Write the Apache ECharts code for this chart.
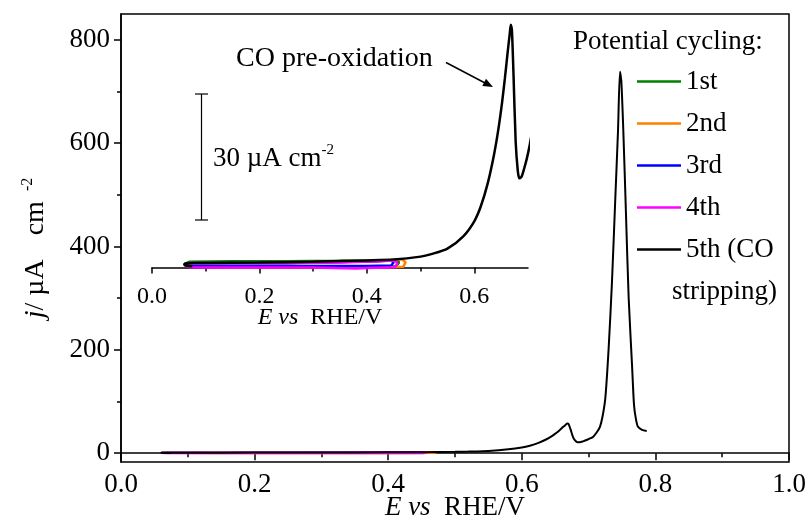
<!DOCTYPE html>
<html><head><meta charset="utf-8">
<script src="https://cdn.jsdelivr.net/npm/echarts@6.0.0/dist/echarts.min.js"></script>
<style>html,body{margin:0;padding:0;background:#fff}#c{width:810px;height:525px}</style>
</head><body><div id="c"></div>
<script>
// ---- data ----
const seriesNames = ['1st', '2nd', '3rd', '4th', '5th (CO stripping)'];
const seriesColors = ['#008000', '#ff8000', '#0000ff', '#ff00ff', '#000000'];
const xTicks = [0, 0.2, 0.4, 0.6, 0.8, 1.0];
const yTicks = [0, 200, 400, 600, 800];
const yMinorTicks = [100, 300, 500, 700];
const insetXTicks = [0, 0.2, 0.4, 0.6];

// cycle 1..4 : closed loops (E in V vs RHE, j in µA cm^-2)
const c1E = [0.06, 0.07, 0.15, 0.25, 0.35, 0.43, 0.455, 0.46, 0.455, 0.40, 0.30, 0.20, 0.10, 0.07, 0.06];
const c1J = [0.8, 1.4, 1.5, 1.5, 1.6, 1.7, 1.8, 1.2, 0.4, 0.3, 0.3, 0.3, 0.3, 0.3, 0.8];
const c2E = [0.06, 0.07, 0.15, 0.25, 0.35, 0.43, 0.465, 0.472, 0.468, 0.42, 0.35, 0.25, 0.15, 0.07, 0.06];
const c2J = [0.7, 1.1, 1.1, 1.1, 1.3, 1.6, 2.0, 1.3, 0.2, 0.1, 0.1, 0.1, 0.1, 0.2, 0.7];
const c3E = [0.06, 0.07, 0.15, 0.25, 0.35, 0.42, 0.445, 0.45, 0.445, 0.40, 0.30, 0.20, 0.10, 0.07, 0.06];
const c3J = [0.8, 1.1, 1.1, 1.1, 1.3, 1.5, 1.7, 1.2, 0.5, 0.4, 0.4, 0.4, 0.4, 0.4, 0.8];
const c4E = [0.06, 0.07, 0.15, 0.25, 0.35, 0.42, 0.452, 0.457, 0.452, 0.40, 0.38, 0.30, 0.20, 0.10, 0.07, 0.06];
const c4J = [0.6, 1.0, 1.0, 1.0, 1.2, 1.5, 1.7, 1.0, 0.1, -0.1, -0.2, 0.0, 0.0, 0.0, 0.1, 0.6];
// cycle 5 : CO stripping
const c5E = [0.075, 0.063, 0.06, 0.063, 0.08, 0.1, 0.2, 0.3, 0.4, 0.45, 0.5, 0.52, 0.55, 0.58, 0.6, 0.612, 0.625, 0.637, 0.645, 0.652, 0.657, 0.662, 0.666, 0.668, 0.670, 0.673, 0.677, 0.681, 0.684, 0.688, 0.693, 0.698, 0.703, 0.707, 0.712, 0.717, 0.721, 0.725, 0.730, 0.735, 0.740, 0.744, 0.747, 0.749, 0.752, 0.756, 0.760, 0.765, 0.768, 0.771, 0.774, 0.780, 0.787];
const c5J = [0.3, 0.5, 0.8, 1.0, 1.1, 1.1, 1.2, 1.4, 1.7, 1.9, 2.6, 3.2, 4.5, 7.5, 11.0, 14.5, 20.0, 27.0, 33.0, 39.5, 45.0, 51.0, 55.5, 57.7, 56.5, 46.0, 30.0, 23.0, 21.2, 21.6, 23.6, 26.0, 29.0, 32.0, 40.0, 51.0, 72.0, 106, 203, 332, 494, 623, 738, 720, 623, 461, 300, 171, 93, 65, 51, 45, 43];

const cyclesE = [c1E, c2E, c3E, c4E, c5E];
const cyclesJ = [c1J, c2J, c3J, c4J, c5J];

// ---- chart ----
const FONT = 'Liberation Serif';
const FS = 27;
const FSI = 24;
const chart = echarts.init(document.getElementById('c'), null, {renderer: 'canvas'});
const zip = (a, b) => a.map((v, i) => [v, b[i]]);

const series = [];
for (let k = 0; k < 5; k++) {
  const data = zip(cyclesE[k], cyclesJ[k]);
  series.push({
    name: seriesNames[k], type: 'line', xAxisIndex: 0, yAxisIndex: 0,
    data: data, symbol: 'none', smooth: k === 4 ? 0.25 : false,
    lineStyle: {color: seriesColors[k], width: 2}, itemStyle: {color: seriesColors[k]},
    z: 2 + k, animation: false
  });
  series.push({
    name: seriesNames[k], type: 'line', xAxisIndex: 1, yAxisIndex: 2,
    data: data, symbol: 'none', smooth: k === 4 ? 0.25 : false, clip: true,
    lineStyle: {color: seriesColors[k], width: 2.5}, itemStyle: {color: seriesColors[k]},
    z: 2 + k, animation: false
  });
}

const axisLine = {show: true, lineStyle: {color: '#000', width: 1.5}};
const labelStyle = {color: '#000', fontFamily: FONT, fontSize: FS};

const option = {
  animation: false,
  backgroundColor: '#fff',
  grid: [
    {left: 121, right: 21, top: 14, bottom: 63, show: true, borderColor: '#000', borderWidth: 1.5,
     backgroundColor: 'transparent', outerBoundsMode: 'none', containLabel: false},
    {left: 152, width: 376, top: 15, height: 261, show: false, outerBoundsMode: 'none', containLabel: false}
  ],
  xAxis: [
    {type: 'value', gridIndex: 0, min: 0, max: 1.0, interval: 0.2,
     axisLine: axisLine, splitLine: {show: false},
     axisTick: {show: true, inside: false, length: 7, lineStyle: {color: '#000', width: 1.5}},
     minorTick: {show: true, splitNumber: 2, length: 4, lineStyle: {color: '#000', width: 1.5}},
     axisLabel: Object.assign({margin: 9, formatter: v => v.toFixed(1)}, labelStyle),
     name: '{i|E vs}  RHE/V', nameLocation: 'middle', nameGap: 32, nameMoveOverlap: false,
     nameTextStyle: {color: '#000', fontFamily: FONT, fontSize: FS,
       rich: {i: {fontFamily: FONT, fontSize: FS, fontStyle: 'italic', color: '#000'}}}
    },
    {type: 'value', gridIndex: 1, min: 0, max: 0.7, interval: 0.2,
     axisLine: axisLine, splitLine: {show: false},
     axisTick: {show: true, inside: false, length: 6, lineStyle: {color: '#000', width: 1.5},
       customValues: insetXTicks},
     minorTick: {show: true, splitNumber: 2, length: 4, lineStyle: {color: '#000', width: 1.5}},
     axisLabel: {margin: 9, customValues: insetXTicks, formatter: v => v.toFixed(1),
       color: '#000', fontFamily: FONT, fontSize: FSI},
     name: '{i|E vs}  RHE/V', nameLocation: 'middle', nameGap: 30, nameMoveOverlap: false,
     nameTextStyle: {color: '#000', fontFamily: FONT, fontSize: FSI, padding: [0, 40, 0, 0],
       rich: {i: {fontFamily: FONT, fontSize: FSI, fontStyle: 'italic', color: '#000'}}}
    }
  ],
  yAxis: [
    {type: 'value', gridIndex: 0, min: -17, max: 850,
     axisLine: axisLine, splitLine: {show: false},
     axisTick: {show: true, inside: false, length: 7, customValues: yTicks, lineStyle: {color: '#000', width: 1.5}},
     axisLabel: Object.assign({margin: 11, customValues: yTicks}, labelStyle),
     name: '{i|j}/ µA{c|cm}{s|-2}', nameLocation: 'middle', nameGap: 69, nameMoveOverlap: false,
     nameTextStyle: {color: '#000', fontFamily: FONT, fontSize: 28, padding: [0, 20, 0, 0],
       rich: {i: {fontFamily: FONT, fontSize: 28, fontStyle: 'italic', color: '#000'},
              c: {fontFamily: FONT, fontSize: 28, color: '#000', padding: [0, 0, 0, 24]},
              s: {fontFamily: FONT, fontSize: 16, color: '#000', verticalAlign: 'top', padding: [0, 0, 16, 10]}}}
    },
    {type: 'value', gridIndex: 0, min: -17, max: 850, position: 'left',
     axisLine: {show: false}, splitLine: {show: false}, axisLabel: {show: false},
     axisTick: {show: true, inside: false, length: 4, customValues: yMinorTicks, lineStyle: {color: '#000', width: 1.5}}
    },
    {type: 'value', gridIndex: 1, min: -2, max: 60, show: false}
  ],
  legend: {
    orient: 'vertical', left: 632, top: 63, itemWidth: 44, itemHeight: 2.5, itemGap: 15,
    icon: 'rect',
    data: seriesNames.map((n, i) => ({name: n, itemStyle: {color: seriesColors[i]}})),
    formatter: n => n === '5th (CO stripping)' ? '5th (CO' : n,
    textStyle: {color: '#000', fontFamily: FONT, fontSize: FS, lineHeight: 27},
    selectedMode: false
  },
  graphic: [
    {type: 'text', left: 672, top: 278, style: {text: 'stripping)', fill: '#000', font: FS + 'px "Liberation Serif"'}},
    {type: 'text', left: 573, top: 28, style: {text: 'Potential cycling:', fill: '#000', font: FS + 'px "Liberation Serif"'}},
    {type: 'text', left: 236, top: 45, style: {text: 'CO pre-oxidation', fill: '#000', font: '28px "Liberation Serif"'}},
    {type: 'line', shape: {x1: 446, y1: 62.5, x2: 486, y2: 83.5}, style: {stroke: '#000', lineWidth: 1.5}},
    {type: 'polygon', shape: {points: [[493, 87], [482.3, 85.9], [486, 78.8]]}, style: {fill: '#000'}},
    {type: 'line', shape: {x1: 201.5, y1: 94, x2: 201.5, y2: 220}, style: {stroke: '#000', lineWidth: 1.2}},
    {type: 'line', shape: {x1: 195, y1: 94, x2: 208, y2: 94}, style: {stroke: '#000', lineWidth: 1.2}},
    {type: 'line', shape: {x1: 195, y1: 220, x2: 208, y2: 220}, style: {stroke: '#000', lineWidth: 1.2}},
    {type: 'text', left: 213, top: 143, style: {
      text: '{a|30 µA cm}{s|-2}',
      rich: {a: {fontFamily: FONT, fontSize: FS, fill: '#000'},
             s: {fontFamily: FONT, fontSize: 15, fill: '#000', verticalAlign: 'top', padding: [0, 0, 16, 0]}}
    }}
  ],
  series: series
};
chart.setOption(option);
</script>
</body></html>
